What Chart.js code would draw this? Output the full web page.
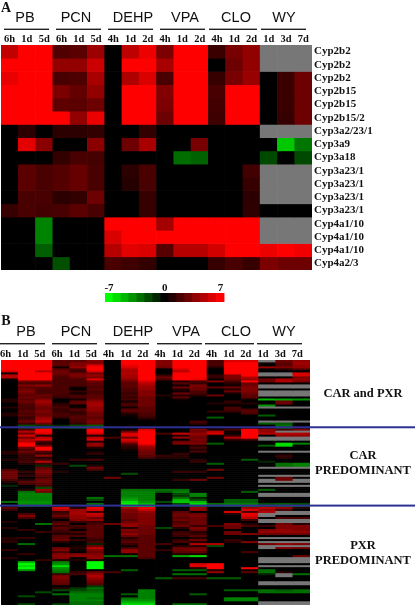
<!DOCTYPE html>
<html>
<head>
<meta charset="utf-8">
<title>Heat maps</title>
<script src="https://cdn.jsdelivr.net/npm/chart.js@4"></script>
<style>
html, body { margin: 0; padding: 0; background: #fff; overflow: hidden; }
canvas { position: absolute; left: 0; filter: blur(0.35px); }
#panelB { filter: blur(0.5px); }
</style>
</head>
<body>
<canvas id="panelA" width="415" height="310" style="top:0"></canvas>
<canvas id="scaleBar" width="415" height="24" style="top:278px"></canvas>
<canvas id="panelB" width="415" height="296" style="top:310px"></canvas>
<script>
const groups = ['PB', 'PCN', 'DEHP', 'VPA', 'CLO', 'WY'];
const times = ['6h', '1d', '5d', '6h', '1d', '5d', '4h', '1d', '2d', '4h', '1d', '2d', '4h', '1d', '2d', '1d', '3d', '7d'];
const genes = ['Cyp2b2', 'Cyp2b2', 'Cyp2b2', 'Cyp2b15', 'Cyp2b15', 'Cyp2b15/2', 'Cyp3a2/23/1', 'Cyp3a9', 'Cyp3a18',
    'Cyp3a23/1', 'Cyp3a23/1', 'Cyp3a23/1', 'Cyp3a23/1', 'Cyp4a1/10', 'Cyp4a1/10', 'Cyp4a1/10', 'Cyp4a2/3'];
const scaleValues = [-7, -6, -5, -4, -3, -2, -1, 0, 1, 2, 3, 4, 5, 6, 7];
const scaleLabels = [-7, 0, 7];
const bSeparators = [33.5, 72.5];

// panel A, one array per gene row, null is a missing (grey) cell
const aRow1 = [5.3, 7, 7, 2.2, 2.5, 4.3, 0, 5.2, 6.5, 3.4, 7, 7, 1.6, 3.3, 4, null, null, null];
const aRow2 = [7, 7, 7, 4, 4, 5.6, 0, 7, 7, 4.6, 7, 7, 0, 3, 4, null, null, null];
const aRow3 = [6.4, 7, 7, 2, 2.1, 4.6, 0, 4.8, 6, 2, 7, 7, 1.5, 3.3, 4.2, 0, 1.6, 3];
const aRow4 = [7, 7, 7, 3.4, 2.7, 4, 0, 7, 7, 3.6, 7, 7, 2, 7, 7, 0, 1.6, 3];
const aRow5 = [7, 7, 7, 2.6, 2.5, 3, 0, 7, 7, 3.4, 7, 7, 1.8, 7, 7, 0, 1.6, 3];
const aRow6 = [7, 7, 7, 7, 4, 6.5, 0, 7, 7, 3, 7, 7, 1.7, 7, 7, 0, 1.5, 3];
const aRow7 = [0, 1.2, 0, 1.2, 1.2, 1.4, 0, 0, 1.4, 0, 0, 0, 0, 0, 0, null, null, null];
const aRow8 = [0, 6.2, 3.8, 0, 0, 3.8, 0, 3, 4.6, 0, 0, 3.3, 0, 0, 0, 0, -5.5, -3.2];
const aRow9 = [0, 0, 0, 1.4, 2, 1.9, 0, 0, 0, 0, -3, -2.7, 0, 0, 0, -2, 0, -2];
const aRow10 = [0, 2.5, 2, 2.3, 2.8, 2, 0, 1.2, 2, 0, 0, 0, 0, 0, 1.8, null, null, null];
const aRow11 = [0, 2.5, 2, 2.3, 2.8, 2, 0, 1, 2, 0, 0, 0, 0, 0, 1.5, null, null, null];
const aRow12 = [0, 2, 2, 1.2, 1.4, 3, 0, 0, 1.5, 0, 0, 0, 0, 0, 1.2, null, null, null];
const aRow13 = [1.5, 2, 1.8, 2, 2.5, 2, 0, 0, 1.5, 0, 0, 0, 0, 0, 1.3, 0, 0, 0];
const aRow14 = [0, 0, -3.6, 0, 0, 0, 7, 7, 7, 4.5, 7, 7, 7, 7, 7, null, null, null];
const aRow15 = [0, 0, -3.6, 0, 0, 0, 6, 7, 7, 7, 7, 7, 7, 7, 7, null, null, null];
const aRow16 = [0, 0, -2.6, 0, 0, 0, 5, 6.2, 6, 2.4, 5, 5, 5.8, 7, 7, 6.5, 7, 6.6];
const aRow17 = [0, 0, 0, -2.2, 0, 0, 2, 1.7, 1.4, 0, 0, 0, 1.5, 2, 1.5, 3.4, 3, 3];
const aRows = [aRow1, aRow2, aRow3, aRow4, aRow5, aRow6, aRow7, aRow8, aRow9, aRow10, aRow11, aRow12, aRow13, aRow14, aRow15, aRow16, aRow17];

// panel B, one array per treatment column, top to bottom
const bPb6h = [7,7,7,7,7,6,0.5,5,5,0.5, 0,0,0,0,0,0,0,0,0,1, 1,0,0,1,0,0,1,1,0,0, 0,0,0,0,
    0,0,0,0,0,0,0,0,0,0, 0,1,1,0,0,1,0,0,0,0, 2,3,3,3,3,2,1,0,-1,0, 0,0,0,0,0,0,-3,0,0,
    2.5,1.5,0,0,0,0,0,1,0,0, 1.2,0,0,0,0,1,1,1.2,0,0, 0,1.5,0,0,0,1.2,0,0,0,0, 0,0,0,0,0,0,0,0,0,0, 0,0,0,0,0,0,0,0,0];
const bPb1d = [7,7,7,7,7,7,7,7,7,7, 3,2,3.5,2.5,3,3.5,3,2.5,3,2.5, 3,2.5,2,2,2,2.5,2,2.5,1.5,2, 3,1.5,-2,-1.5,
    2,5,3,6,3,5,5,7,7,3, 2,3,2,1.5,
    1.5,1.5,2,1,0,0,0,1.5,0.5,1.5, 0,1,2.5,2,0,0,1,-3,-3.5,-3.5, -3.5,-3.5,-4,-4,-2.5,
    0,0,0,2,3.5,2,0,0,0,0, 0,1.5,0,0,0,1.5,0,0,-3,0, 0,0,0,1.5,0,0,0,-5,-7,-6, -7,-4,0,0,0,0,0,0,0,0, 0,0,0,0,-2,0,0,0,-2];
const bPb5d = [7,7,7,7,7,5,7,7,7,7, 3,2,4,2.5,2,2,2,3,2.5,3.5, 4.5,4,3.5,3,3,3.5,3,3,4,4.5, 5,3,-1.5,-2,
    7,7,6,1,5,6,2,1,3,7, 7,2,1.5,4,
    1,2,5,1.5,-1,2.5,3,3.5,3,2.5, 2,3,3,2.5,2,-2,4,3,-3.5,-3.5, -3.5,-3.5,-4,-4,-2,
    0,0,0,0,0,0,0,0,-3,0, 0,0,1.5,0,0,0,0,0,0,0, 0,0,0,0,0,0,1.5,0,0,0, 0,0,0,0,0,0,0,0,0,0, 0,0,-2,0,0,0,0,0,0];
const bPcn6h = [2.5,2.5,2.5,0.5,2.5,3,3,2.5,2,2, 2,2,2,2,2,2,2,1.8,1.5,0, 0,1,1.5,2,1.5,1.5,2,2,1.5,0, 0,0,-1,-2,
    0,0,0,0,0,0,0,0,0,0, 0,0,0,0,0,0,0,1.5,0,0, 0,1,0,0,0,0,0,0,0,0, 0,0,0,0,0,0,0,0,0,
    6,5,1.5,2,3,1.5,0,2,2.5,1.5, 2.5,2,1.5,1,2.5,2.5,3,1,0,0, 3,3.5,2,3.5,4,3.5,1,-3.5,-4,-6, -4,-3.5,-3,1.5,3.5,3.5,3,3,2.5,0, 1,-2,0,-3,0,0,0,0,-2];
const bPcn1d = [2.5,3.5,3.5,4,2,1.5,3,3.5,3,2, 2,2,2,0.5,0,1.5,0.5,2,2,0.5, 2.5,2.5,0,0.5,2.5,1.5,1.5,2,2.5,2, 2,1.5,-2,-2.5,
    0,0,0,0,0,0,0,0,0,0, 0,0,0,0,0,1.5,0,0,-2,0, 0,0,0,0,0,0,0,0,0,0, 0,0,0,0,0,0,0,0,0,
    1,4,4.5,4.5,4,4,3.5,1.5,0,2, 1.5,0,2,1,2,0,1.5,0,0,0.5, 1,0.5,0,3.5,4,0,1,0,0,0, 0,0,1.5,2,0,0,0,0,0,0, -1.5,-2,-3,-3.5,-3.5,-3.5,-3.5,-3,-3];
const bPcn5d = [3.5,3.5,6,7,7,6,3,4,3.5,6, 3,2.5,2.5,2,2.5,2,2,2.5,2.5,3, 4,4.5,4.5,4,4,3.5,3,3,2.5,3, 3.5,3,-2.5,-2.5,
    7,7,6,1,5,6,1,4,4,1, 0,0.5,1.5,0,
    0,2,0,0,1,3,2,0,0,0, 0,0,0,0,0,0,0,0,0,0, -3,-2,0,-3,-1,
    6.5,6,1.5,5.5,5,3,4,1.5,2,2.5, 2.5,2.5,2.5,2.5,2.5,2,1.5,2,-1,3, 5,3.5,3,3.5,4,4,1,-7,-7,-7, -7,0,3,4,5,4,3.5,3,2.5,-1.5, -3,-2.5,-3,-3.5,-3.5,-3,-3.5,-3,-3];
const bDehp4h = [0,0,0,0,0,0,0,0,0,0, 0,0,0,0,0,0,0,0,0,0, 0,0,0,0,0,0,0,0,0,0, 0,0,0,0,
    0,0,0,0,2,0,0,0,0,0, 0,0,0,0,0,0,0,0,0,0, 0,0,0,0,3,0,0,0,0,0, 0,0,0,0,0,0,0,0,0,
    0,0,0,0,0,0,0,0,3,0, 0,0,0,0,0,0,0,0,0,0, 0,0,0,0,-3,0,0,0,0,0, 0,0,2,0,0,0,0,0,0,0, 0,0,0,0,0,0,0,0,0];
const bDehp1d = [7,7,6.5,6,5,4.5,5,4.5,4.5,4, 3,2.5,2.5,2.5,2,2,1.5,2,1.5,2, 0.5,2,2,0.5,2.5,2.5,1,0.5,0,0, 0,0,0,0,
    0.5,3,6,6,3,6,5,2.5,1.5,1, 0.5,0,0,0,
    0,0,0,0,0,0,0,0,-2,0, 0,0,0,0,0,0,-3,-3.5,-3.5,-3.5, -4,-4.5,-6,-6.5,-6,
    4.5,3.5,3.5,3,3,3,2.5,3,4,4, 1,3.5,3,4,3,1,2,2.5,1.5,0.5, 2,4,4,0.5,-3,0,0,0,0,0, 0,-2.5,0,0,0,0,0,0,0,0, 0,0,0,-2.5,0,-3,-4,-5,-6];
const bDehp2d = [7,7,7,7,7,7,7,7,7,7, 6,5,4.5,4,4,3.5,3.5,3.5,3,3, 3,3,3,2.5,2.5,2.5,2,2,1.5,0.5, 0,0,0,-0.5,
    6,7,7,7,7,7,7,7,5,4, 3.5,3,3,2.5,
    2,0,0,0,0,0,0,0,0,0, 0,0,0,0,0,0,-3,-3.5,-3.5,-3.5, -3.5,-3.5,-4,-5,-6,
    6.5,5.5,4,3.5,3.5,3.5,3.5,3.5,3.5,3, 3,3,3,3,2.5,2.5,2.5,2.5,2.5,2.5, 2.5,2.5,2.5,2.5,2.5,2,0,0,0,0, 0,0,0,0,0,0,0,0,0,0, 0,-3.5,-3.5,-3.5,-3.5,-3.5,-4,-5,-6];
const bVpa4h = [3.5,3.5,3.5,3,0,0,0,1.5,3,2, 0,0,0,0,0,0,0,1,0,0, 0,0,0,0,0,0,0,0,0,0, 0,0,0,0,
    0,0,2,0,0,0,0,0,0,0, 0,0,0,1.5,
    1,0,0,0,0,0,0,0,0,0, 0,0,0,0,0,0,-3,-2.5,0,0, 0,0,-2,0,-1,
    0,0,0,0,0,0,0,0,0,0, -2,0,0,0,0,0,0,0,2,0, 0,1.5,0,0,0,0,0,0,0,0, 0,0,0,0,0,-2.5,0,0,0,0, 0,0,0,0,0,0,0,0,0];
const bVpa1d = [7,7,7,7,6,5,7,7,7,7, 1,2.5,0.5,3,1,0.5,3,1,2.5,0.5, 0,0,0,0,0,0,0,0,0,0, 0,0,0,0,
    0,0,5.5,1,4,0,3,3.5,0,0, 0,0,1.5,1,
    1,0,0,0,0,0,0,1.5,0,0, 0,1.5,0,0,0,0,-3,-3.5,-2,-1.5, -3,-5,-5.5,-2,-1,
    0,0,2.5,3,3,2.5,3,2,2.5,3, 1,0,1.5,2,1.5,0,1.5,2,0,1, 3,3,2.5,1,-4.5,0,0,0,0,0, 0,-2.5,0,-3,0,2,0,0,0,0, 0,0,0,0,0,0,0,0,-3];
const bVpa2d = [7,7,7,7,7,7,7,7,7,6.5, 2,1.5,3.5,3,3,2,2,1,0,0, 0,0,0,0,0,0,0,0,0,0, 2,1.5,0,0,
    3.5,3,4,3.5,3,3.5,3,3.5,1,2, 1,2,0,0,
    0,1,1.5,0,0,0,0,1.5,0,0, 0,3,0,0,0,0,0,0,-3.5,-3.5, -1,-2,-5,-6,-3,
    4,4,0,3,3.5,3,3,3,3,1.5, 3.5,3,1,1.5,2.5,1,3,1,5,1, 3,3.5,2.5,1,-6,0,0,0,6,6, 1,-2.5,0,-3,0,2,0,0,0,0, 0,0,0,-2.5,0,0,0,0,-3];
const bClo4h = [2,2,2,1,0,0,0,1.5,1.5,0, 3.5,0,0,2.5,0,0,0,3,0,0, 0,1,0,0,0,1.5,0,0,-2.5,0, 0,0,0,0,
    1,5,6,0.5,0,0,0,-2.5,0,0, 0,0,0,0,
    0,0,0,-2.5,0,0,3,0,0,0, 3,0,0,0,0,0,0,0,0,0, 0,0,0,-3,-2,
    0,0,0,0,0,0,0,0,0,2, 0,0,0,0,0,0,0,0,5,-2, 0,0,0,0,0,0,0,0,7,7, 7,1,4,0,0,-2.5,0,0,0,0, 0,0,0,0,0,0,0,0,0];
const bClo1d = [6,7,7,7,7,7,7,3.5,3.5,3, 2,1,0.5,3,1,3,0.5,0,0,0, 1.5,1,0,2,2,1.5,0,0,0,0, 0,0,0,0,
    2,0.5,0,1.5,5,1.5,0,0,0,0, 0,0,0,0,
    0,0,0,0,0,0,0,0,0,0, 0,0,0,0,0,0,0,0,0,0, 0,-2.5,-2.5,-3.5,-3,
    0,0,6,1,0,0,0,0,3.5,3, 3,0,3,3,0,0,1.5,1,0,0, 0,0,0,0,0,0,0,0,0,0, 0,0,0,0,0,-2.5,0,0,0,0, 0,-2.5,0,0,0,-3.5,-3.5,0,0];
const bClo2d = [6,7,7,7,7,7,7,7,5,4, 7,3,3,3.5,3.5,3.5,3,2.5,2.5,0.5, 0,1,0,0,2,2.5,2,0,0,0, 0,0,0,0,
    7,7,7,7,7,2,0,0,0,0, 0,0,0,0,
    0,-2.5,0,0,0,0,0,0,0,0, 0,0,0,0,0,0,0,-2.5,0,0, 0,-2.5,-2.5,-3.5,-3,
    4,6,2,6.5,6,5,2,0,1,2, 0,0,0,3.5,0,0,0,3.5,0,0, 0,0,2,0,0,0,0,0,0,0, 7,0.5,2.5,0,0,0,0,0,0,0, 0,-2.5,0,0,0,-3.5,-3.5,0,0];
const bWy1d = [null,0.5,0,4,0,0,null,null,0,3, 3,0,null,null,0,null,null,null,0,-5, 0,0,-4,null,0,0,0,-2.5,0,0, null,-2.5,0,0,
    4,4,5,0,null,null,0,0,-2.5,0, 0,null,0,0,
    0,0,-1,0,0,null,0,0,0,null, 0,null,null,0,null,0,-2.5,0,null,null, 0,0,0,-2,-2,
    5,4,5,null,null,0,null,null,0,1.5, 0,3.5,4,3,0,null,0,null,3,null, null,0,0,0,0,null,null,null,0,null, 0,-3,-3,-1,0,0,0,null,null,0, 0,-3,-3,0,0,0,0,null,null];
const bWy3d = [3,2.5,2.5,3.5,1,0,null,null,0,4.5, 5,0,null,null,0,null,null,null,0,-4.5, 3,3,0,null,0,0,0,0,0,0, null,-2.5,-3,-3,
    2,null,5,4,null,null,0,-6,-6,0, 0,null,0,1.5,
    1,0,0,-3,-3,null,0,0,0,null, 3,3,null,0,null,0,0,0,null,null, 0,0,0,-2.5,-3,
    4,2,null,null,0,2,null,null,3,3.5, 3.5,4,4,3,0,null,0,null,4,null, 3.5,0,0,0,0,null,null,null,0,null, 0,0,1,null,null,0,0,null,null,0, 0,-2.5,-3,0,0,0,0,null,null];
const bWy7d = [4,4.5,4,4,2,0,6,6,3.5,4, 3.5,0,null,null,0,null,null,null,0,-4, 0,0,0,null,0,0,0,0,0,0, null,0,0,0,
    3.5,null,5,4,null,null,0,-3.5,0,0, 0,null,0,0,
    0,0,0,-3.5,-3.5,null,0,0,0,null, 0,null,null,0,null,0,0,0,null,null, 0,0,0,-2,-3,
    1,0,null,null,0,2,null,null,1,3.5, 3.5,3.5,4,3,0,null,0,null,3.5,null, 3,0,0,0,3,null,null,null,0,null, 0,0,0,-3,0,0,0,null,null,0, 0,-3,-3,0,0,0,0,null,null];
const bColumns = [bPb6h, bPb1d, bPb5d, bPcn6h, bPcn1d, bPcn5d, bDehp4h, bDehp1d, bDehp2d, bVpa4h, bVpa1d, bVpa2d, bClo4h, bClo1d, bClo2d, bWy1d, bWy3d, bWy7d];

function cellColor(v) {
    if (v === null) return '#777777';
    const level = Math.round(255 * Math.min(Math.abs(v) / 7, 1));
    return v >= 0 ? `rgb(${level},0,0)` : `rgb(0,${level},0)`;
}

// one dataset per row, each a floating bar per column
function rowDatasets(rows) {
    return rows.map((row, r) => ({
        data: row.map(() => [r, r + 1]),
        backgroundColor: row.map(cellColor),
        grouped: false,
        barPercentage: 1,
        categoryPercentage: 1
    }));
}

function drawText(ctx, text, x, y, font, align) {
    ctx.font = font;
    ctx.fillStyle = '#111';
    ctx.textAlign = align || 'center';
    ctx.textBaseline = 'middle';
    ctx.fillText(text, x, y);
}

function groupHeader(ctx, centers, spans, textY, lineY) {
    groups.forEach((g, i) => {
        drawText(ctx, g, centers[i], textY, '14.5px "Liberation Sans"');
        ctx.fillStyle = '#222';
        ctx.fillRect(spans[i][0], lineY, spans[i][1] - spans[i][0], 1.4);
    });
}

const panelAExtras = {
    id: 'panelAExtras',
    afterDraw(chart) {
        const ctx = chart.ctx;
        drawText(ctx, 'A', 6, 8, 'bold 14px "Liberation Serif"');
        groupHeader(ctx, [25, 76, 133, 185, 236, 284],
            [[4, 49], [56, 101], [108, 153], [160, 205], [209, 257], [261, 306]], 17.5, 28.6);
    }
};

const panelBExtras = {
    id: 'panelBExtras',
    afterDraw(chart) {
        const ctx = chart.ctx;
        drawText(ctx, 'B', 6, 11, 'bold 14px "Liberation Serif"');
        groupHeader(ctx, [26, 76, 133, 186, 236, 284],
            [[0, 45], [52, 97], [105, 149], [157, 202], [205, 254], [257, 302]], 22, 33);
        ctx.fillStyle = '#2e3192';
        bSeparators.forEach(s => {
            ctx.fillRect(0, chart.scales.y.getPixelForValue(s) - 1, chart.width, 2);
        });
        const font = 'bold 12.5px "Liberation Serif"';
        drawText(ctx, 'CAR and PXR', 363, 83.5, font);
        drawText(ctx, 'CAR', 363, 146, font);
        drawText(ctx, 'PREDOMINANT', 363, 160.5, font);
        drawText(ctx, 'PXR', 363, 235.5, font);
        drawText(ctx, 'PREDOMINANT', 363, 250.5, font);
    }
};

function flatAxis(extra) {
    return Object.assign({
        grid: { display: false, drawTicks: false },
        border: { display: false }
    }, extra);
}

new Chart(document.getElementById('panelA'), {
    type: 'bar',
    data: { labels: times, datasets: rowDatasets(aRows) },
    options: {
        responsive: false,
        animation: false,
        layout: { padding: { left: 1, right: 0, top: 0, bottom: 40 } },
        plugins: { legend: { display: false }, tooltip: { enabled: false } },
        scales: {
            x: flatAxis({
                position: 'top',
                afterFit: s => { s.height = 45; },
                ticks: { font: { family: 'Liberation Serif', weight: 'bold', size: 10.5 }, color: '#111', padding: -1, autoSkip: false, maxRotation: 0, minRotation: 0 }
            }),
            y: flatAxis({
                position: 'right',
                reverse: true,
                min: 0,
                max: genes.length,
                afterFit: s => { s.width = 103; },
                afterBuildTicks: s => { s.ticks = genes.map((g, i) => ({ value: i + 0.5 })); },
                ticks: {
                    font: { family: 'Liberation Serif', weight: 'bold', size: 11 },
                    color: '#111',
                    padding: 2,
                    autoSkip: false,
                    callback: v => genes[v - 0.5]
                }
            })
        }
    },
    plugins: [panelAExtras]
});

new Chart(document.getElementById('scaleBar'), {
    type: 'bar',
    data: {
        labels: scaleValues,
        datasets: [{
            data: scaleValues.map(() => [0, 1]),
            backgroundColor: scaleValues.map(cellColor),
            barPercentage: 1,
            categoryPercentage: 1
        }]
    },
    options: {
        responsive: false,
        animation: false,
        layout: { padding: { left: 105, right: 190.5, top: 0, bottom: 0 } },
        plugins: { legend: { display: false }, tooltip: { enabled: false } },
        scales: {
            x: flatAxis({
                position: 'top',
                afterFit: s => { s.height = 15; },
                ticks: {
                    font: { family: 'Liberation Serif', weight: 'bold', size: 11 },
                    color: '#111',
                    padding: -2,
                    autoSkip: false,
                    maxRotation: 0,
                    minRotation: 0,
                    callback: (v, i) => scaleLabels.includes(scaleValues[i]) ? String(scaleValues[i]) : ''
                }
            }),
            y: flatAxis({ display: false, min: 0, max: 1 })
        }
    }
});

const bRows = bColumns[0].map((_, r) => bColumns.map(c => c[r]));

new Chart(document.getElementById('panelB'), {
    type: 'bar',
    data: { labels: times, datasets: rowDatasets(bRows) },
    options: {
        responsive: false,
        animation: false,
        layout: { padding: { left: 1, right: 105, top: 0, bottom: 1 } },
        plugins: { legend: { display: false }, tooltip: { enabled: false } },
        scales: {
            x: flatAxis({
                position: 'top',
                afterFit: s => { s.height = 50; },
                ticks: { font: { family: 'Liberation Serif', weight: 'bold', size: 10.5 }, color: '#111', padding: -1, labelOffset: -4, autoSkip: false, maxRotation: 0, minRotation: 0 }
            }),
            y: flatAxis({ display: false, reverse: true, min: 0, max: bRows.length })
        }
    },
    plugins: [panelBExtras]
});
</script>
</body>
</html>
